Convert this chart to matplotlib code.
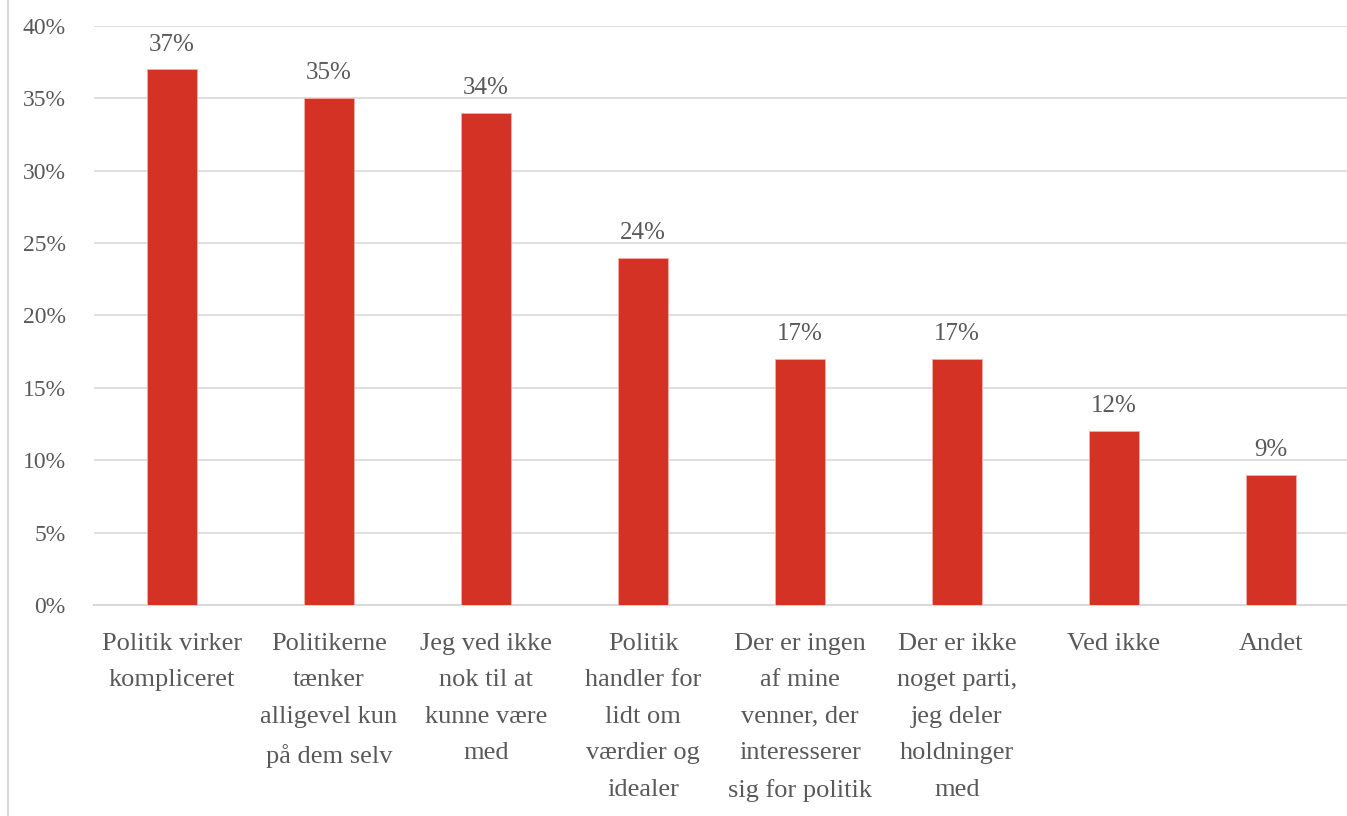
import matplotlib.pyplot as plt
from matplotlib.lines import Line2D

# data
categories = [
    "Politik virker\nkompliceret",
    "Politikerne\ntænker\nalligevel kun\npå dem selv",
    "Jeg ved ikke\nnok til at\nkunne være\nmed",
    "Politik\nhandler for\nlidt om\nværdier og\nidealer",
    "Der er ingen\naf mine\nvenner, der\ninteresserer\nsig for politik",
    "Der er ikke\nnoget parti,\njeg deler\nholdninger\nmed",
    "Ved ikke",
    "Andet",
]
values = [37, 35, 34, 24, 17, 17, 12, 9]
yticks = [0, 5, 10, 15, 20, 25, 30, 35, 40]

text_color = "#595959"
grid_color = "#d9d9d9"
bar_color = "#d33224"

plt.rcParams["font.family"] = ["Liberation Serif", "DejaVu Serif"]

fig = plt.figure(figsize=(13.47, 8.16), dpi=100)
ax = fig.add_axes([93.5 / 1347, 211 / 816, 1256 / 1347, 579 / 816])

x = range(len(categories))
bars = ax.bar(x, values, width=0.32, color=bar_color, edgecolor="#f0b0a8",
              linewidth=0.6, zorder=3)

for b, v in zip(bars, values):
    ax.annotate(f"{v}%", (b.get_x() + b.get_width() / 2, v),
                xytext=(0, 10), textcoords="offset points",
                ha="center", va="bottom", fontsize=18, color=text_color)

ax.set_xlim(-0.5, len(categories) - 0.5)
ax.set_ylim(0, 40)
ax.set_yticks(yticks)
ax.set_yticklabels([f"{t}%" for t in yticks], fontsize=17)
ax.set_xticks(list(x))
ax.set_xticklabels(categories, linespacing=1.85, fontsize=19)

ax.grid(axis="y", color=grid_color, linewidth=1.2, zorder=0)
ax.tick_params(axis="both", length=0, colors=text_color)
ax.tick_params(axis="y", pad=20)
ax.tick_params(axis="x", pad=20)
for side in ["top", "right", "left"]:
    ax.spines[side].set_visible(False)
ax.spines["bottom"].set_color(grid_color)
ax.spines["bottom"].set_linewidth(1.5)

# outer frame line on the left edge
fig.add_artist(Line2D([7.5 / 1347, 7.5 / 1347], [0, 1], transform=fig.transFigure,
                      color=grid_color, linewidth=1.5))

fig.savefig("out.png", dpi=100)
